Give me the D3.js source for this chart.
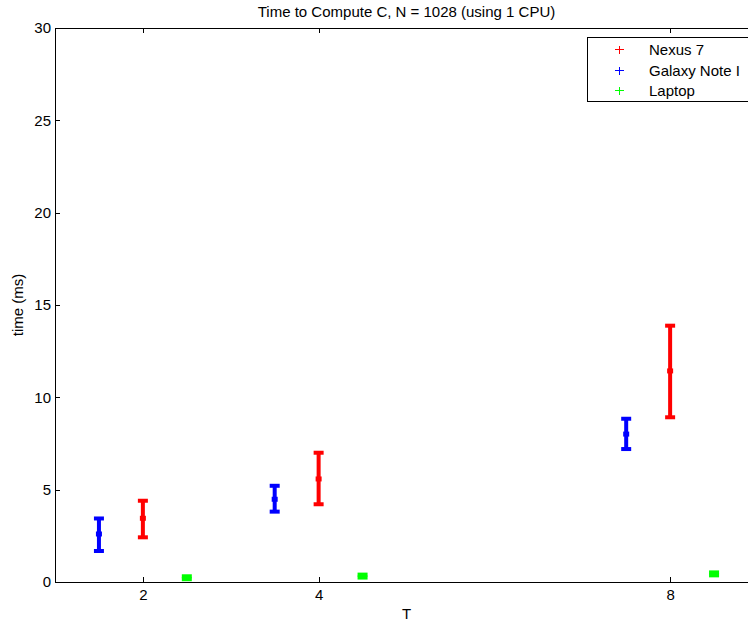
<!DOCTYPE html>
<html>
<head>
<meta charset="utf-8">
<script src="https://cdn.jsdelivr.net/npm/d3@7"></script>
<style>
  html, body { margin: 0; padding: 0; background: #fff; }
  svg { display: block; font-family: "Liberation Sans", Arial, sans-serif; }
  .axis path, .axis line { stroke: #000; stroke-width: 1; shape-rendering: crispEdges; }
  .axis text { fill: #000; font-size: 15px; }
</style>
</head>
<body>
<div id="chart"></div>
<script>
  // Datos
  const TICKS_X = [2, 4, 8];
  const TICKS_Y = [0, 5, 10, 15, 20, 25, 30];

  const SERIES = [
    { name: 'Nexus 7', color: '#ff0000' },
    { name: 'Galaxy Note I', color: '#0000ff' },
    { name: 'Laptop', color: '#00ff00' }
  ];

  // T, media, mínimo, máximo
  const nexus = [
    { t: 2, mean: 3.45, lo: 2.42, hi: 4.40 },
    { t: 4, mean: 5.58, lo: 4.21, hi: 7.00 },
    { t: 8, mean: 11.43, lo: 8.92, hi: 13.88 }
  ];
  const galaxy = [
    { t: 1.5, mean: 2.60, lo: 1.68, hi: 3.44 },
    { t: 3.5, mean: 4.48, lo: 3.81, hi: 5.21 },
    { t: 7.5, mean: 8.01, lo: 7.20, hi: 8.84 }
  ];
  const laptop = [
    { t: 2.5, mean: 0.23, lo: 0.15, hi: 0.31 },
    { t: 4.5, mean: 0.32, lo: 0.24, hi: 0.40 },
    { t: 8.5, mean: 0.44, lo: 0.36, hi: 0.52 }
  ];
  const seriesData = [nexus, galaxy, laptop];

  const width = 748, height = 627;
  const svg = d3.select('#chart').append('svg')
    .attr('width', width).attr('height', height);

  const x = d3.scaleLinear().domain([1, 9]).range([55, 758]);
  const y = d3.scaleLinear().domain([0, 30]).range([582, 28]);

  // ejes (ticks hacia dentro, estilo MATLAB)
  svg.append('g').attr('class', 'axis')
    .attr('transform', `translate(0,${y(0)})`)
    .call(d3.axisBottom(x).tickValues(TICKS_X).tickSize(-5).tickPadding(7).tickSizeOuter(0));
  svg.append('g').attr('class', 'axis')
    .attr('transform', `translate(0,${y(30)})`)
    .call(d3.axisTop(x).tickValues(TICKS_X).tickSize(-5).tickFormat('').tickSizeOuter(0));
  svg.append('g').attr('class', 'axis')
    .attr('transform', `translate(${x(1)},0)`)
    .call(d3.axisLeft(y).tickValues(TICKS_Y).tickSize(-5).tickPadding(4).tickSizeOuter(0));
  svg.append('g').attr('class', 'axis')
    .attr('transform', `translate(${x(9)},0)`)
    .call(d3.axisRight(y).tickValues(TICKS_Y).tickSize(-5).tickFormat('').tickSizeOuter(0));
  svg.selectAll('.axis .domain').attr('fill', 'none');

  // barras de error
  const capW = 5;
  seriesData.forEach((data, i) => {
    const color = SERIES[i].color;
    const g = svg.append('g');
    data.forEach((d) => {
      const cx = x(d.t);
      g.append('line')
        .attr('x1', cx).attr('x2', cx).attr('y1', y(d.lo)).attr('y2', y(d.hi))
        .attr('stroke', color).attr('stroke-width', 4);
      [d.lo, d.hi].forEach((v) => {
        g.append('line')
          .attr('x1', cx - capW).attr('x2', cx + capW).attr('y1', y(v)).attr('y2', y(v))
          .attr('stroke', color).attr('stroke-width', 4);
      });
      g.append('rect')
        .attr('x', cx - 3).attr('y', y(d.mean) - 2.5).attr('width', 6).attr('height', 5)
        .attr('fill', color);
    });
  });

  // títulos
  svg.append('text')
    .attr('x', (x(1) + x(9)) / 2).attr('y', 17)
    .attr('text-anchor', 'middle').attr('font-size', 15)
    .text('Time to Compute C, N = 1028 (using 1 CPU)');
  svg.append('text')
    .attr('x', (x(1) + x(9)) / 2).attr('y', 619)
    .attr('text-anchor', 'middle').attr('font-size', 15)
    .text('T');
  svg.append('text')
    .attr('transform', `translate(23,${(y(0) + y(30)) / 2}) rotate(-90)`)
    .attr('text-anchor', 'middle').attr('font-size', 15)
    .text('time (ms)');

  // leyenda
  const legend = svg.append('g').attr('transform', 'translate(587,37)');
  legend.append('rect')
    .attr('x', 0.5).attr('y', 0.5).attr('width', 170).attr('height', 64)
    .attr('fill', '#fff').attr('stroke', '#000').attr('stroke-width', 1)
    .attr('shape-rendering', 'crispEdges');
  SERIES.forEach((s, i) => {
    const ry = Math.round(12 + i * 20.5) + 0.5;
    legend.append('path')
      .attr('d', `M32.5,${ry - 4}V${ry + 4}M28,${ry}H37`)
      .attr('stroke', s.color).attr('stroke-width', 1)
      .attr('shape-rendering', 'crispEdges');
    legend.append('text')
      .attr('x', 62).attr('y', ry + 5)
      .attr('font-size', 15)
      .text(s.name);
  });
</script>
</body>
</html>
